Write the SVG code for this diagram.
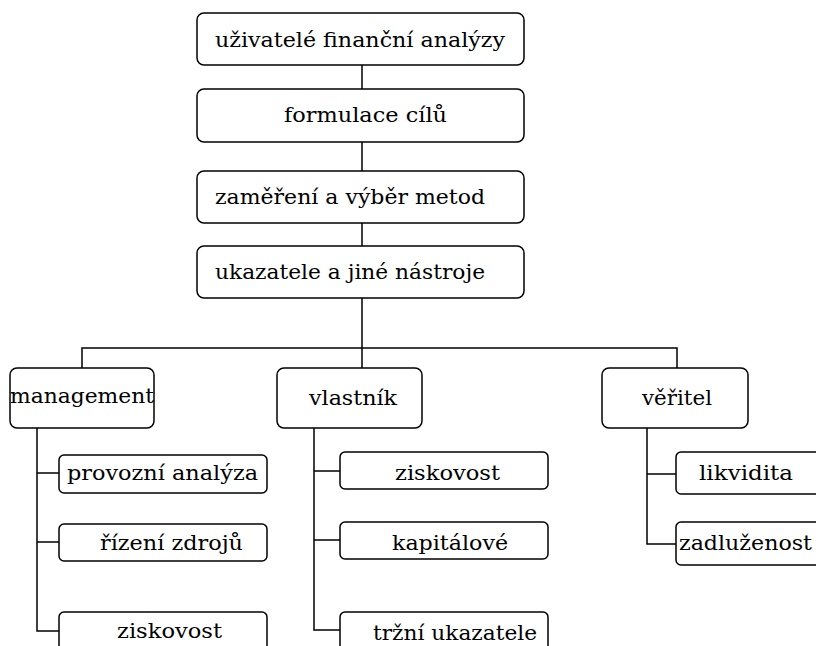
<svg xmlns="http://www.w3.org/2000/svg" width="816" height="646" viewBox="0 0 816 646">
<style>
.box{fill:#fff;stroke:#000;stroke-width:1.5}
.t{font-family:'DejaVu Serif',serif;font-size:21px;fill:#000}
.c{stroke:#000;stroke-width:1.5;fill:none}
</style>
<rect width="816" height="646" fill="#fff"/>
<g id="connectors">
<path class="c" d="M362 65V89M362 142V171M362 223V246M362 298V368"/>
<path class="c" d="M82 368V348H677V368"/>
<path class="c" d="M37 428V631H59M37 473H59M37 542H59"/>
<path class="c" d="M314 428V630H340M314 471H340M314 540H340"/>
<path class="c" d="M647 428V544H676M647 474H676"/>
</g>
<g id="n1"><rect class="box" x="197" y="13" width="327" height="52" rx="7"/><text class="t" x="215" y="47" textLength="290" lengthAdjust="spacingAndGlyphs">uživatelé finanční analýzy</text></g>
<g id="n2"><rect class="box" x="197" y="89" width="327" height="53" rx="7"/><text class="t" x="284" y="122" textLength="163" lengthAdjust="spacingAndGlyphs">formulace cílů</text></g>
<g id="n3"><rect class="box" x="197" y="171" width="327" height="52" rx="7"/><text class="t" x="215" y="204" textLength="270" lengthAdjust="spacingAndGlyphs">zaměření a výběr metod</text></g>
<g id="n4"><rect class="box" x="197" y="246" width="327" height="52" rx="7"/><text class="t" x="215" y="279" textLength="270" lengthAdjust="spacingAndGlyphs">ukazatele a jiné nástroje</text></g>
<g id="management"><rect class="box" x="10" y="368" width="144" height="60" rx="7"/><text class="t" x="10" y="403" textLength="144" lengthAdjust="spacingAndGlyphs">management</text></g>
<g id="vlastnik"><rect class="box" x="277" y="368" width="145" height="60" rx="7"/><text class="t" x="309" y="405" textLength="88" lengthAdjust="spacingAndGlyphs">vlastník</text></g>
<g id="veritel"><rect class="box" x="602" y="368" width="146" height="60" rx="7"/><text class="t" x="642" y="405" textLength="70" lengthAdjust="spacingAndGlyphs">věřitel</text></g>
<g id="m1"><rect class="box" x="59" y="455" width="208" height="38" rx="5"/><text class="t" x="67" y="480" textLength="191" lengthAdjust="spacingAndGlyphs">provozní analýza</text></g>
<g id="m2"><rect class="box" x="59" y="524" width="208" height="37" rx="5"/><text class="t" x="100" y="550" textLength="143" lengthAdjust="spacingAndGlyphs">řízení zdrojů</text></g>
<g id="m3"><rect class="box" x="59" y="612" width="208" height="50" rx="5"/><text class="t" x="117" y="638" textLength="105" lengthAdjust="spacingAndGlyphs">ziskovost</text></g>
<g id="v1"><rect class="box" x="340" y="452" width="208" height="37" rx="5"/><text class="t" x="395" y="480" textLength="105" lengthAdjust="spacingAndGlyphs">ziskovost</text></g>
<g id="v2"><rect class="box" x="340" y="522" width="208" height="37" rx="5"/><text class="t" x="392" y="550" textLength="116" lengthAdjust="spacingAndGlyphs">kapitálové</text></g>
<g id="v3"><rect class="box" x="340" y="612" width="208" height="50" rx="5"/><text class="t" x="373" y="640" textLength="164" lengthAdjust="spacingAndGlyphs">tržní ukazatele</text></g>
<g id="r1"><rect class="box" x="676" y="452" width="160" height="42" rx="5"/><text class="t" x="699" y="480" textLength="94" lengthAdjust="spacingAndGlyphs">likvidita</text></g>
<g id="r2"><rect class="box" x="676" y="522" width="160" height="43" rx="5"/><text class="t" x="679" y="550" textLength="133" lengthAdjust="spacingAndGlyphs">zadluženost</text></g>
</svg>
